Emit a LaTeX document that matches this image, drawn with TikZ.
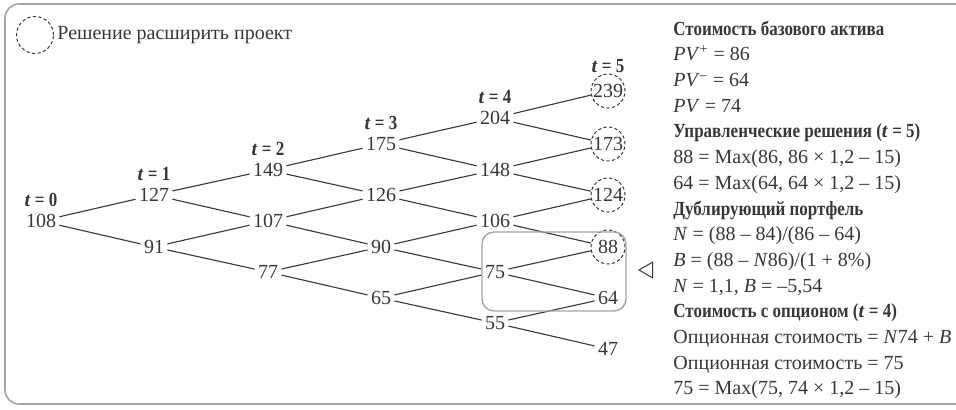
\documentclass[tikz,border=0pt]{standalone}
\usepackage{fontspec}
\setmainfont{Liberation Serif}[BoldFeatures={FakeStretch=0.85}]
\usepackage{tikz}
\usetikzlibrary{shapes,positioning,fit}
\definecolor{inkcolor}{RGB}{55,55,55}
\definecolor{framecolor}{RGB}{165,165,165}

\begin{document}
\begin{tikzpicture}[
    x=0.5pt, y=-0.5pt,
    every node/.style={font=\fontsize{10}{12}\selectfont, text=inkcolor},
    val/.style={inner sep=1.5pt},
    opt/.style={circle, draw=inkcolor, line width=0.5pt, dash pattern=on 1.6pt off 1.2pt, minimum size=17pt, inner sep=0pt},
    tlabel/.style={inner sep=1pt, font=\bfseries\fontsize{10}{12}\selectfont},
    edge/.style={draw=inkcolor, line width=0.55pt}
]
\useasboundingbox (0,0) rectangle (956,410);

% outer frame and legend
\draw[framecolor, line width=0.8pt, rounded corners=7pt] (956,4) -- (5,4) -- (5,404) -- (956,404);
\node[opt, minimum size=18.5pt] (legend) at (35,35) {};
\node[right=1.5pt of legend, inner sep=0pt] (legendtext) {Решение расширить проект};

% tree nodes
\node[val] (v108) at (41,221) {108};
\node[val] (v127) at (154,195) {127};
\node[val] (v91) at (154,247) {91};
\node[val] (v149) at (268,170) {149};
\node[val] (v107) at (268,221) {107};
\node[val] (v77) at (268,272) {77};
\node[val] (v175) at (381,144) {175};
\node[val] (v126) at (381,195) {126};
\node[val] (v90) at (381,247) {90};
\node[val] (v65) at (381,298) {65};
\node[val] (v204) at (495,118) {204};
\node[val] (v148) at (495,170) {148};
\node[val] (v106) at (495,221) {106};
\node[val] (v75) at (495,272) {75};
\node[val] (v55) at (495,323) {55};
\node[opt] (v239) at (608,91) {239};
\node[opt] (v173) at (608,144) {173};
\node[opt] (v124) at (608,195) {124};
\node[opt] (v88) at (608,247) {88};
\node[val] (v64) at (608,298) {64};
\node[val] (v47) at (608,349) {47};

% time labels
\node[tlabel, above=1pt of v108] (t0) {\textit{t} = 0};
\node[tlabel, above=1pt of v127] (t1) {\textit{t} = 1};
\node[tlabel, above=1pt of v149] (t2) {\textit{t} = 2};
\node[tlabel, above=1pt of v175] (t3) {\textit{t} = 3};
\node[tlabel, above=1pt of v204] (t4) {\textit{t} = 4};
\node[tlabel, above=-1pt of v239] (t5) {\textit{t} = 5};

% branches
\draw[edge] (v108) -- (v127) (v108) -- (v91);
\draw[edge] (v127) -- (v149) (v127) -- (v107) (v91) -- (v107) (v91) -- (v77);
\draw[edge] (v149) -- (v175) (v149) -- (v126) (v107) -- (v126) (v107) -- (v90) (v77) -- (v90) (v77) -- (v65);
\draw[edge] (v175) -- (v204) (v175) -- (v148) (v126) -- (v148) (v126) -- (v106) (v90) -- (v106) (v90) -- (v75) (v65) -- (v75) (v65) -- (v55);
\draw[edge] (v204) -- (v239) (v204) -- (v173) (v148) -- (v173) (v148) -- (v124) (v106) -- (v124) (v106) -- (v88) (v75) -- (v88) (v75) -- (v64) (v55) -- (v64) (v55) -- (v47);

% replicating step and its marker
\draw[framecolor, line width=0.7pt, rounded corners=6pt] (482,232) rectangle (626,311);
\node[draw=inkcolor, line width=0.5pt, regular polygon, regular polygon sides=3, shape border rotate=90, minimum size=9pt, inner sep=0pt] (mark) at (648,270) {};

% calculation text
\node[anchor=west, align=left, inner sep=0pt, font=\fontsize{10}{12.85}\selectfont] (calc) at (673,210) {%
\textbf{Стоимость базового актива}\\
\textit{PV}\textsuperscript{+} = 86\\
\textit{PV}\textsuperscript{–} = 64\\
\textit{PV} = 74\\
\textbf{Управленческие решения (\textit{t} = 5)}\\
88 = Max(86, 86 × 1,2 – 15)\\
64 = Max(64, 64 × 1,2 – 15)\\
\textbf{Дублирующий портфель}\\
\textit{N} = (88 – 84)/(86 – 64)\\
\textit{B} = (88 – \textit{N}86)/(1 + 8\%)\\
\textit{N} = 1,1, \textit{B} = –5,54\\
\textbf{Стоимость с опционом (\textit{t} = 4)}\\
Опционная стоимость = \textit{N}74 + \textit{B}\\
Опционная стоимость = 75\\
75 = Max(75, 74 × 1,2 – 15)};

\end{tikzpicture}
\end{document}
